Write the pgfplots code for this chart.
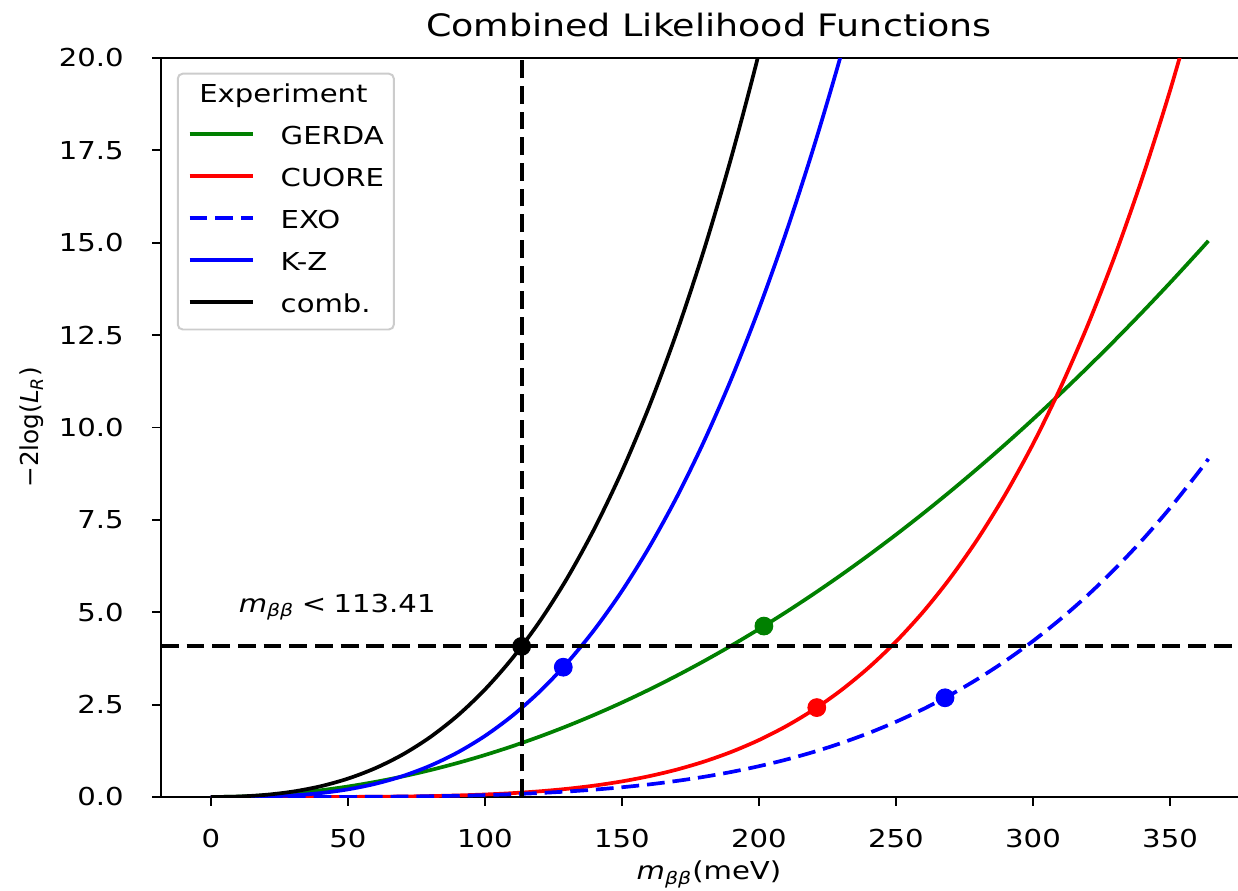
\documentclass[border=0pt]{standalone}
\usepackage{fontspec}
\setmainfont{DejaVu Sans}[FakeStretch=1.18]
\newfontfamily\plainfont{DejaVu Sans}
\usepackage{pgfplots}
\pgfplotsset{compat=1.18}
\definecolor{mplgreen}{rgb}{0,0.5,0}
\newcommand{\mbb}{\textit{m}\textsubscript{\textit{ββ}}}
\begin{document}
\begin{tikzpicture}[font=\fontsize{10}{12}\selectfont]
\begin{axis}[
  name=main,
  scale only axis, width=436.2pt, height=299.3pt,
  xmin=-18.2, xmax=374.8, ymin=0, ymax=20,
  axis x line*=box, axis y line*=left,
  xtick={0,50,100,150,200,250,300,350},
  ytick={0,2.5,5,7.5,10,12.5,15,17.5,20},
  xtick pos=left, ytick pos=left,
  tick align=outside, major tick length=3.6pt,
  every tick/.style={black, line width=0.8pt},
  axis line style={line width=0.8pt, black},
  /pgf/number format/assume math mode=true,
  yticklabel style={/pgf/number format/fixed, /pgf/number format/fixed zerofill, /pgf/number format/precision=1, inner sep=0pt, anchor=east, xshift=-11.3pt},
  xticklabel style={inner sep=0pt, anchor=north, yshift=-9.3pt},
  xlabel={\mbb(meV)},
  xlabel style={at={(axis description cs:0.5088,-0.1056)}, anchor=base, inner sep=0pt, yshift=-2pt},
  ylabel={\plainfont −2log(\textit{L}\textsubscript{\textit{R}})},
  ylabel style={at={(axis description cs:-0.1133,0.5)}, anchor=base, inner sep=0pt},
  legend style={at={(axis description cs:0,1)}, anchor=north west, xshift=6.4pt, yshift=-5.95pt,
    draw=black!20, line width=0.8pt, rounded corners=2pt, fill=white, fill opacity=0.8, text opacity=1,
    inner xsep=4pt, inner ysep=3.4pt, row sep=5.2pt, column sep=0pt,
    nodes={inner sep=0pt, text height=8.3pt, text depth=3.5pt},
    cells={anchor=base west},
    font=\fontsize{10}{12}\selectfont},
  legend image code/.code={\draw[#1] (0pt,4.3pt) -- (25.6pt,4.3pt); \path (36.2pt,4.3pt);},
]
\addlegendimage{empty legend}
\addlegendentry{\hspace{-33pt}Experiment}

\addplot[mplgreen, line width=1.5pt, smooth] coordinates {(0,0) (10,0.0114) (20,0.0454) (30,0.1022) (40,0.1818) (50,0.2840) (60,0.4090) (70,0.5566) (80,0.7270) (90,0.9202) (100,1.1360) (110,1.3746) (120,1.6358) (130,1.9198) (140,2.2266) (150,2.5560) (160,2.9082) (170,3.2830) (180,3.6806) (190,4.1010) (200,4.5440) (210,5.0098) (220,5.4982) (230,6.0094) (240,6.5434) (250,7.1000) (260,7.6794) (270,8.2814) (280,8.9062) (290,9.5538) (300,10.2240) (310,10.9170) (320,11.6326) (330,12.3710) (340,13.1322) (350,13.9160) (360,14.7226) (364,15.0518)};
\addlegendentry{GERDA}

\addplot[red, line width=1.5pt, smooth] coordinates {(0,0) (10,0.0000) (20,0.0000) (30,0.0003) (40,0.0011) (50,0.0030) (60,0.0068) (70,0.0137) (80,0.0250) (90,0.0424) (100,0.0681) (110,0.1046) (120,0.1547) (130,0.2218) (140,0.3096) (150,0.4223) (160,0.5646) (170,0.7417) (180,0.9592) (190,1.2234) (200,1.5410) (210,1.9194) (220,2.3662) (230,2.8904) (240,3.5002) (250,4.2063) (260,5.0184) (270,5.9477) (280,7.0048) (290,8.2036) (300,9.5546) (310,11.074) (320,12.775) (330,14.673) (340,16.783) (350,19.118) (360,21.704) (364,22.81)};
\addlegendentry{CUORE}

\addplot[blue, line width=1.5pt, smooth, dash pattern=on 7.2pt off 3.2pt] coordinates {(0,0) (10,0.0000) (20,0.0001) (30,0.0004) (40,0.0013) (50,0.0033) (60,0.0068) (70,0.0125) (80,0.0213) (90,0.0342) (100,0.0521) (110,0.0763) (120,0.1081) (130,0.1489) (140,0.2002) (150,0.2639) (160,0.3416) (170,0.4353) (180,0.5471) (190,0.6792) (200,0.8339) (210,1.0136) (220,1.2210) (230,1.4585) (240,1.7292) (250,2.0359) (260,2.3818) (270,2.7699) (280,3.2036) (290,3.6864) (300,4.2217) (310,4.8134) (320,5.4652) (330,6.1810) (340,6.9650) (350,7.8213) (360,8.7542) (364,9.1497)};
\addlegendentry{EXO}

\addplot[blue, line width=1.5pt, smooth] coordinates {(0,0) (10,0.0017) (20,0.0132) (30,0.0446) (40,0.1057) (50,0.2065) (60,0.3568) (70,0.5666) (80,0.8458) (90,1.2043) (100,1.6520) (110,2.1988) (120,2.8547) (130,3.6294) (140,4.5331) (150,5.5755) (160,6.7666) (170,8.1163) (180,9.6345) (190,11.331) (200,13.216) (210,15.299) (220,17.591) (230,20.100) (240,22.838)};
\addlegendentry{K-Z}

\addplot[black, line width=1.5pt, smooth] coordinates {(0,0) (10,0.0130) (20,0.0587) (30,0.1475) (40,0.2899) (50,0.4968) (60,0.7794) (70,1.1494) (80,1.6191) (90,2.2011) (100,2.9082) (110,3.7543) (120,4.7533) (130,5.9199) (140,7.2695) (150,8.8177) (160,10.581) (170,12.576) (180,14.821) (190,17.335) (200,20.135) (210,23.242)};
\addlegendentry{comb.}

\addplot[black, line width=1.6pt, dash pattern=on 7.2pt off 3.2pt, forget plot] coordinates {(113.41,0) (113.41,20)};
\addplot[black, line width=1.6pt, dash pattern=on 7.2pt off 3.2pt, forget plot] coordinates {(-18.2,4.077) (374.8,4.077)};

\addplot[only marks, mark=*, mark size=3.6pt, mplgreen, forget plot] coordinates {(201.8,4.626)};
\addplot[only marks, mark=*, mark size=3.6pt, red, forget plot] coordinates {(221.1,2.420)};
\addplot[only marks, mark=*, mark size=3.6pt, blue, forget plot] coordinates {(267.9,2.685)};
\addplot[only marks, mark=*, mark size=3.6pt, blue, forget plot] coordinates {(128.6,3.513)};
\addplot[only marks, mark=*, mark size=3.6pt, black, forget plot] coordinates {(113.41,4.077)};

\node[anchor=base west, inner sep=0pt] at (axis cs:10,5) {\mbb\hspace{3pt}<\hspace{3pt}113.41};
\end{axis}
\node[anchor=base, inner sep=0pt, font=\fontsize{12.5}{14}\selectfont] at ([xshift=221.9pt, yshift=8.9pt]main.north west) {Combined Likelihood Functions};
\pgfresetboundingbox
\path[use as bounding box] ([xshift=-65.2pt,yshift=-37.7pt]main.south west) rectangle ([yshift=23.5pt]main.north east);
\end{tikzpicture}
\end{document}
